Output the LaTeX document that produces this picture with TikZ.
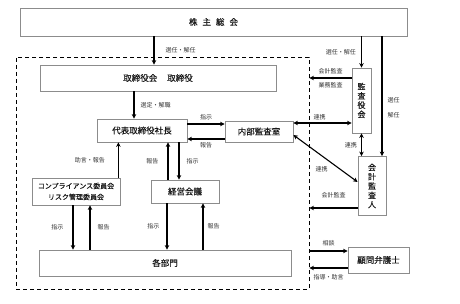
\documentclass[tikz,border=0pt]{standalone}
\usepackage{fontspec}
\setmainfont{Noto Sans CJK JP}
\newfontfamily\bxfont[FakeBold=0.35]{Noto Sans CJK JP}
\definecolor{boxline}{HTML}{8C8C8C}
\definecolor{txt}{HTML}{1A1A1A}
\definecolor{txtsub}{HTML}{333333}
\usetikzlibrary{arrows.meta,positioning}
\begin{document}
\begin{tikzpicture}[x=1pt,y=-1pt,
    bx/.style={draw=boxline,fill=white,line width=0.8pt,inner sep=0pt,
      align=center,font=\bxfont\fontsize{8.5}{10}\selectfont,text=txt},
    vb/.style={bx,font=\bxfont\fontsize{8}{9.3}\selectfont},
    grp/.style={draw=black,line width=0.9pt,dash pattern=on 4pt off 3pt,
      minimum width=293pt,minimum height=232pt},
    lb/.style={font=\fontsize{6}{7}\selectfont,text=txtsub,inner sep=1pt},
    ar/.style={-{Stealth[length=4.5pt,width=4.5pt]},line width=1.1pt},
    ar2/.style={{Stealth[length=4.5pt,width=4.5pt]}-{Stealth[length=4.5pt,width=4.5pt]},
      line width=1.1pt},
  ]
    \useasboundingbox (0,0) rectangle (460,304);
    \node[grp](g) at (162.5,173) {};
    \node[bx,minimum width=387pt,minimum height=28pt](s) at (213.5,22)
      {株\hspace{5pt}主\hspace{5pt}総\hspace{5pt}会};
    \node[bx,minimum width=236pt,minimum height=26pt](b) at (158,78)
      {取締役会\hspace{10pt}取締役};
    \node[bx,minimum width=90pt,minimum height=23pt](p) at (142,130.5) {代表取締役社長};
    \node[bx,minimum width=68pt,minimum height=21pt](ia) at (259,131.5) {内部監査室};
    \node[bx,minimum width=68pt,minimum height=23pt](mc) at (185,191.5) {経営会議};
    \node[bx,minimum width=88pt,minimum height=27pt,font=\bxfont\fontsize{7}{11}\selectfont](cr)
      at (76,191.5) {コンプライアンス委員会\\リスク管理委員会};
    \node[bx,minimum width=252pt,minimum height=26pt](d) at (165,263) {各部門};
    \node[vb,minimum width=19pt,minimum height=65pt](ac) at (361.5,100.5) {監\\査\\役\\会};
    \node[vb,minimum width=28pt,minimum height=59pt](ea) at (372,186) {会\\計\\監\\査\\人};
    \node[bx,minimum width=61pt,minimum height=26pt](lw) at (378.5,260) {顧問弁護士};

    \draw[ar]([xshift=-4pt]b.north |- s.south)--([xshift=-4pt]b.north)
      node[lb,midway,right=10pt]{選任・解任};
    \draw[ar](ac.north |- s.south)--(ac.north)
      node[lb,midway,left=4pt]{選任・解任};
    \draw[ar]([xshift=10pt]ea.north |- s.south)--([xshift=10pt]ea.north)
      node[lb,pos=0.6,right=4pt,align=left,font=\fontsize{6}{15}\selectfont]{選任\\解任};
    \draw[ar]([xshift=-8pt]p.north |- b.south)--([xshift=-8pt]p.north)
      node[lb,midway,right=5pt]{選定・解職};

    \draw[ar]([yshift=6.5pt]p.east)--([yshift=6.5pt]p.east -| ia.west)
      node[lb,midway,above=2pt]{指示};
    \draw[ar]([yshift=-8.5pt]p.east -| ia.west)--([yshift=-8.5pt]p.east)
      node[lb,midway,below=2pt]{報告};
    \draw[ar]([xshift=-17pt]mc.north)--([xshift=-17pt]mc.north |- p.south)
      node[lb,midway,left=8pt]{報告};
    \draw[ar]([xshift=-6pt]mc.north |- p.south)--([xshift=-6pt]mc.north)
      node[lb,midway,right=6pt]{指示};
    \draw[ar]([xshift=-2pt]cr.north east)--([xshift=-2pt]cr.north east |- p.south)
      node[lb,midway,left=12pt]{助言・報告};

    \draw[ar]([xshift=-3pt]cr.south)--([xshift=-3pt]cr.south |- d.north)
      node[lb,midway,left=8pt]{指示};
    \draw[ar]([xshift=14pt]cr.south |- d.north)--([xshift=14pt]cr.south)
      node[lb,midway,right=6pt]{報告};
    \draw[ar]([xshift=-18pt]mc.south)--([xshift=-18pt]mc.south |- d.north)
      node[lb,midway,left=6pt]{指示};
    \draw[ar]([xshift=18pt]mc.south |- d.north)--([xshift=18pt]mc.south)
      node[lb,midway,right=3pt]{報告};

    \draw[ar]([yshift=22.5pt]ac.west)--([yshift=22.5pt]ac.west -| g.east)
      node[lb,midway,above=2pt]{会計監査}
      node[lb,midway,below=3pt]{業務監査};
    \draw[ar2]([yshift=8.5pt]ia.east)--([yshift=8.5pt]ia.east -| ac.west)
      node[lb,pos=0.45,above=1pt]{連携};
    \draw[ar2](ac.south)--(ac.south |- ea.north)
      node[lb,midway,left=3pt]{連携};
    \draw[ar2]([yshift=-3.5pt]ia.east)--([yshift=4pt]ea.west)
      node[lb,pos=0.55,below=4pt,xshift=-7pt]{連携};
    \draw[ar]([yshift=-22pt]ea.west)--([yshift=-22pt]ea.west -| g.east)
      node[lb,midway,above=8pt]{会計監査};

    \draw[ar]([yshift=9pt]lw.west -| g.east)--([yshift=9pt]lw.west)
      node[lb,midway,above=3pt]{相談};
    \draw[ar]([yshift=-8pt]lw.west)--([yshift=-8pt]lw.west -| g.east)
      node[lb,midway,below=5pt]{指導・助言};
  \end{tikzpicture}
\end{document}
